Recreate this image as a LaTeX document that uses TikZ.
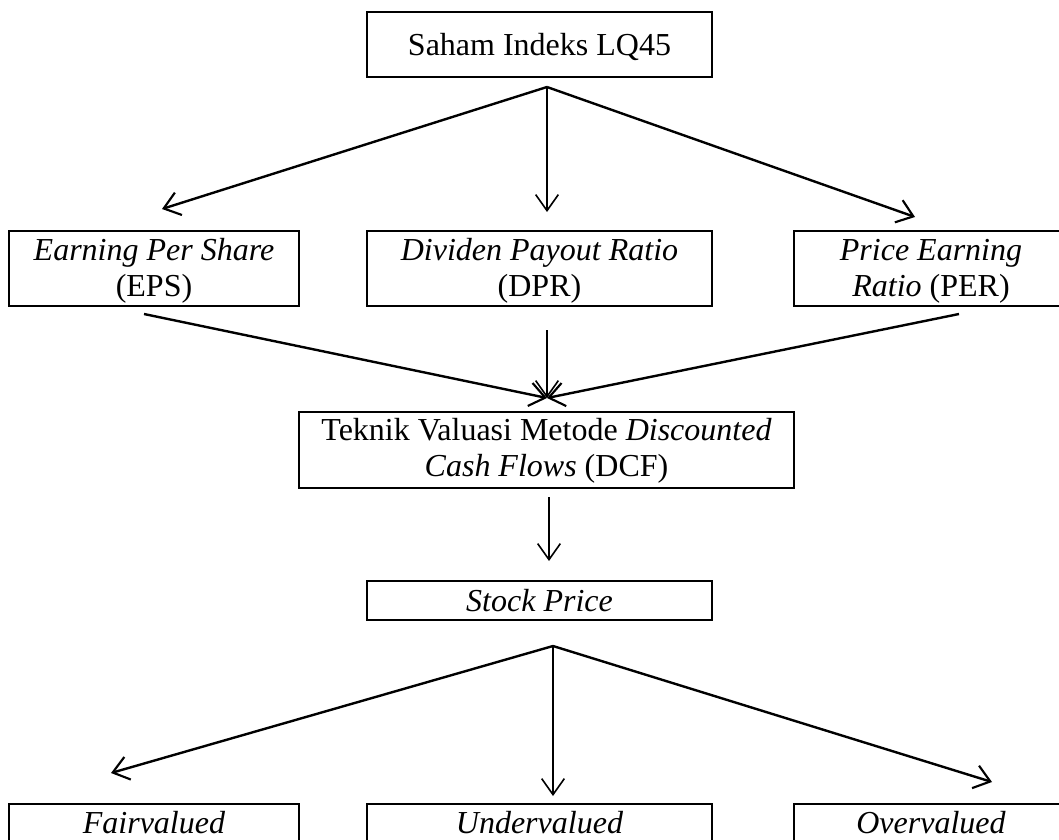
\documentclass[tikz,border=0pt]{standalone}
\usepackage{fontspec}
\setmainfont{Liberation Serif}
\usetikzlibrary{arrows.meta}
\tikzset{
  box/.style={draw, line width=0.75pt, rectangle, inner ysep=0pt, inner xsep=2pt,
    anchor=base, font=\fontsize{12}{13.5}\selectfont},
  arr/.style={line width=0.9pt, -{Straight Barb[length=5.8pt,width=8.8pt,line width=0.8pt]}},
  varr/.style={line width=0.6pt, -{Straight Barb[length=6pt,width=8.5pt,line width=0.6pt]}},
}
\newcommand{\twoline}[2]{\begin{tabular}[t]{@{}c@{}}#1\\#2\end{tabular}}
\begin{document}
\begin{tikzpicture}[x=0.375pt,y=-0.375pt]
\useasboundingbox (0,0) rectangle (1059,839);
\clip (0,0) rectangle (1059,839);
% boxes
\node[box, minimum width=129.4pt, text height=16.1pt, text depth=8.25pt] (top) at (539.5,55) {Saham Indeks LQ45};
\node[box, minimum width=108.75pt, text height=10.9pt, text depth=17.25pt] (eps) at (154,260) {\twoline{\textit{Earning Per Share}}{(EPS)}};
\node[box, minimum width=129.4pt, text height=10.9pt, text depth=17.25pt] (dpr) at (539.5,260) {\twoline{\textit{Dividen Payout Ratio}}{(DPR)}};
\node[box, minimum width=102.75pt, text height=10.9pt, text depth=17.25pt] (per) at (931,260) {\twoline{\textit{Price Earning}}{\textit{Ratio} (PER)}};
\node[box, minimum width=185.6pt, text height=10.5pt, text depth=18pt] (dcf) at (546.5,440) {\twoline{Teknik Valuasi Metode \textit{Discounted}}{\textit{Cash Flows} (DCF)}};
\node[box, minimum width=129.4pt, text height=11.25pt, text depth=3.4pt] (stock) at (539.5,611) {\textit{Stock Price}};
\node[box, minimum width=108.75pt, text height=10.9pt, text depth=17.25pt] (fair) at (154,833) {\textit{Fairvalued}};
\node[box, minimum width=129.4pt, text height=10.9pt, text depth=17.25pt] (under) at (539.5,833) {\textit{Undervalued}};
\node[box, minimum width=102.75pt, text height=10.9pt, text depth=17.25pt] (over) at (931,833) {\textit{Overvalued}};
% connector points
\coordinate (j1) at (547,87);
\coordinate (tEPS) at (162,209);
\coordinate (tDPR) at (547,212);
\coordinate (tPER) at (915,217);
\coordinate (sEPS) at (144,314);
\coordinate (sDPR) at (547,330);
\coordinate (sPER) at (959,314);
\coordinate (conv) at (547,398);
\coordinate (sDCF) at (549,497);
\coordinate (tStock) at (549,561);
\coordinate (j2) at (553,646);
\coordinate (tFair) at (111,773);
\coordinate (tUnder) at (553,796);
\coordinate (tOver) at (992,782);
% connectors
\draw[arr] (j1) -- (tEPS);
\draw[varr] (j1) -- (tDPR);
\draw[arr] (j1) -- (tPER);
\draw[arr] (sEPS) -- (conv);
\draw[varr] (sDPR) -- (conv);
\draw[arr] (sPER) -- (conv);
\draw[varr] (sDCF) -- (tStock);
\draw[arr] (j2) -- (tFair);
\draw[varr] (j2) -- (tUnder);
\draw[arr] (j2) -- (tOver);
\end{tikzpicture}
\end{document}
